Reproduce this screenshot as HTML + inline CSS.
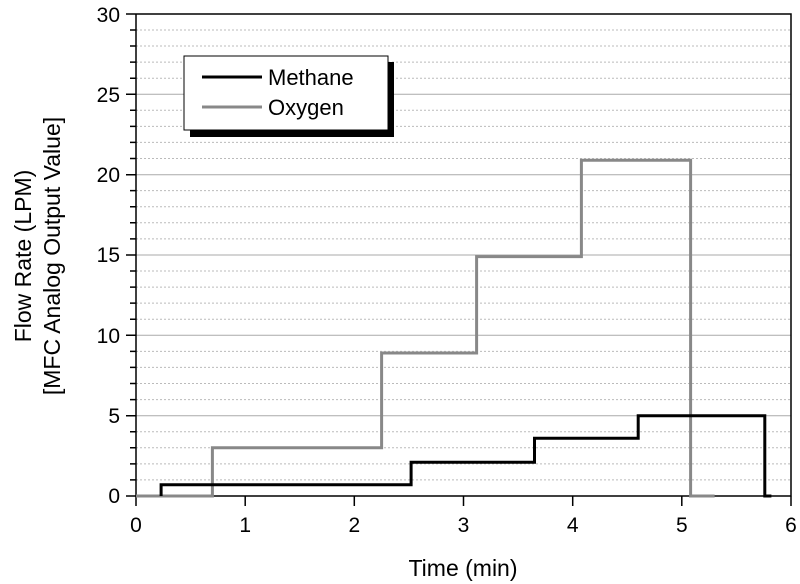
<!DOCTYPE html>
<html><head><meta charset="utf-8"><style>html,body{margin:0;padding:0;background:#fff}svg{display:block}</style></head>
<body>
<svg width="800" height="584" viewBox="0 0 800 584" xmlns="http://www.w3.org/2000/svg" font-family="Liberation Sans, Arial, sans-serif">
<rect width="800" height="584" fill="#fff"/>
<g stroke="#bbb" stroke-width="1" stroke-dasharray="2,2" fill="none">
<path d="M136 479.9H791M136 463.9H791M136 447.8H791M136 431.7H791M136 399.6H791M136 383.5H791M136 367.4H791M136 351.4H791M136 319.2H791M136 303.1H791M136 287.1H791M136 271H791M136 238.9H791M136 222.8H791M136 206.7H791M136 190.6H791M136 158.5H791M136 142.4H791M136 126.4H791M136 110.3H791M136 78.2H791M136 62.1H791M136 46H791M136 30H791"/>
</g>
<g stroke="#aaa" stroke-width="1" fill="none">
<path d="M136 415.7H791M136 335.3H791M136 255H791M136 174.7H791M136 94.3H791"/>
</g>
<g stroke="#000" stroke-width="1.5" fill="none">
<path d="M136 14V496H791V14H136"/>
<path d="M136 496.5V506M245.2 496.5V506M354.3 496.5V506M463.5 496.5V506M572.7 496.5V506M681.8 496.5V506M791 496.5V506"/>
<path d="M126 496H136M126 415.7H136M126 335.3H136M126 255H136M126 174.7H136M126 94.3H136M126 14H136"/>
<path d="M130 479.9H136M130 463.9H136M130 447.8H136M130 431.7H136M130 399.6H136M130 383.5H136M130 367.4H136M130 351.4H136M130 319.2H136M130 303.1H136M130 287.1H136M130 271H136M130 238.9H136M130 222.8H136M130 206.7H136M130 190.6H136M130 158.5H136M130 142.4H136M130 126.4H136M130 110.3H136M130 78.2H136M130 62.1H136M130 46H136M130 30H136"/>
</g>
<path d="M136 496H212.4V447.8H381.6V353H476.6V256.6H581.4V160.2H690.6V496H714.6" fill="none" stroke="#888" stroke-width="3"/>
<path d="M161.1 496V484.8H411.1V462.3H534.5V438.2H638.2V415.7H764.8V496H771.4" fill="none" stroke="#000" stroke-width="3"/>
<rect x="190" y="62" width="204" height="75" fill="#000"/>
<rect x="184" y="56" width="204" height="74" fill="#fff" stroke="#000" stroke-width="1"/>
<path d="M202 77H262" stroke="#000" stroke-width="3"/>
<path d="M202 107H262" stroke="#888" stroke-width="3"/>
<g font-size="22" fill="#000">
<text x="268" y="85">Methane</text>
<text x="268" y="115">Oxygen</text>
</g>
<g font-size="21" fill="#000" text-anchor="middle">
<text x="136" y="532">0</text><text x="245.2" y="532">1</text><text x="354.3" y="532">2</text><text x="463.5" y="532">3</text><text x="572.7" y="532">4</text><text x="681.8" y="532">5</text><text x="791" y="532">6</text>
</g>
<g font-size="21" fill="#000" text-anchor="end">
<text x="120" y="503">0</text><text x="120" y="423">5</text><text x="120" y="343">10</text><text x="120" y="262">15</text><text x="120" y="182">20</text><text x="120" y="102">25</text><text x="120" y="22">30</text>
</g>
<text x="463" y="576" font-size="23" text-anchor="middle">Time (min)</text>
<g font-size="23" text-anchor="middle">
<text transform="translate(31,256) rotate(-90)">Flow Rate (LPM)</text>
<text transform="translate(60,256) rotate(-90)">[MFC Analog Output Value]</text>
</g>
</svg>
</body></html>
